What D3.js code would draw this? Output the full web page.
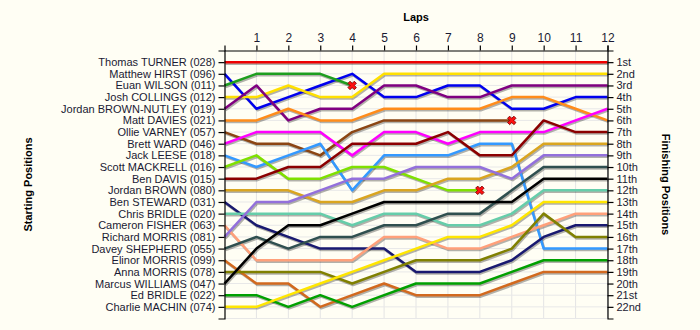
<!DOCTYPE html>
<html><head><meta charset="utf-8">
<script src="https://cdn.jsdelivr.net/npm/d3@7"></script>
<style>
html,body{margin:0;padding:0;background:#FFFEF4;}
svg{display:block;font-family:"Liberation Sans",Arial,sans-serif;}
</style></head><body>
<svg id="c" width="700" height="330"></svg>
<script>
const drivers = ["Thomas TURNER (028)","Matthew HIRST (096)","Euan WILSON (011)","Josh COLLINGS (012)","Jordan BROWN-NUTLEY (019)","Matt DAVIES (021)","Ollie VARNEY (057)","Brett WARD (046)","Jack LEESE (018)","Scott MACKRELL (016)","Ben DAVIS (015)","Jordan BROWN (080)","Ben STEWARD (031)","Chris BRIDLE (020)","Cameron FISHER (063)","Richard MORRIS (081)","Davey SHEPHERD (055)","Elinor MORRIS (099)","Anna MORRIS (078)","Marcus WILLIAMS (047)","Ed BRIDLE (022)","Charlie MACHIN (074)"];
const colors = ["#EE0000","#0000EE","#1E9E1E","#FFE000","#800080","#FF8C1A","#8B4513","#FF00FF","#3399FF","#7FE000","#8B0000","#DAA520","#191970","#66CDAA","#FFA07A","#9370DB","#2F4F4F","#D2691E","#808000","#000000","#00A000","#FFE600"];
// positions at laps 0..12 (lap 0 = starting grid)
const positions = [
 [1,1,1,1,1,1,1,1,1,1,1,1,1],
 [2,5,4,3,2,4,4,3,3,5,5,4,4],
 [3,2,2,2,3],
 [4,4,3,4,4,2,2,2,2,2,2,2,2],
 [5,3,6,5,5,3,3,4,4,3,3,3,3],
 [6,6,5,6,6,5,5,5,5,4,4,5,6],
 [7,8,8,9,7,6,6,6,6,6],
 [8,7,7,7,9,7,7,8,7,7,7,6,5],
 [9,10,9,8,12,9,9,9,8,8,17,17,17],
 [10,9,11,11,10,10,11,12,12],
 [11,11,10,10,8,8,8,7,9,9,6,7,7],
 [12,12,12,13,13,12,12,11,11,10,8,8,8],
 [13,15,16,17,17,17,19,19,19,18,16,15,15],
 [14,14,14,14,15,14,14,15,15,14,12,12,12],
 [15,18,18,18,18,16,16,17,17,16,15,14,14],
 [16,13,13,12,11,11,10,10,10,11,9,9,9],
 [17,16,17,16,16,15,15,14,14,12,10,10,10],
 [18,20,20,22,21,20,21,21,21,20,19,19,19],
 [19,19,19,19,20,19,18,18,18,17,14,16,16],
 [20,17,15,15,14,13,13,13,13,13,11,11,11],
 [21,21,22,21,22,21,20,20,20,19,18,18,18],
 [22,22,21,20,19,18,17,16,16,15,13,13,13]
];
const retired = [false,false,true,false,false,false,true,false,false,true,false,false,false,false,false,false,false,false,false,false,false,false];
const laps = d3.range(1,13);
const finishLabels = ["1st","2nd","3rd","4th","5th","6th","7th","8th","9th","10th","11th","12th","13th","14th","15th","16th","17th","18th","19th","20th","21st","22nd"];

const svg = d3.select("#c");
svg.append("rect").attr("width",700).attr("height",330).attr("fill","#FFFEF4");
const x = d3.scaleLinear().domain([0,12]).range([224.5,607.5]);
const y = d3.scaleLinear().domain([0,23]).range([50.5,318.5]);

// grid
const g = svg.append("g");
g.selectAll(".vg").data(laps).join("line")
 .attr("x1",d=>x(d)).attr("x2",d=>x(d)).attr("y1",y(0)).attr("y2",y(23))
 .attr("stroke","#e4e4e4").attr("stroke-width",1);
g.selectAll(".hg").data(d3.range(1,24)).join("line")
 .attr("x1",x(0)).attr("x2",x(12)).attr("y1",d=>y(d)).attr("y2",d=>y(d))
 .attr("stroke","#e8e8e8").attr("stroke-width",1);

const line = d3.line().x((d,i)=>x(i)).y(d=>y(d));
// shadows
svg.append("g").selectAll("path").data(positions).join("path")
 .attr("d",line).attr("fill","none").attr("stroke","rgba(0,0,0,0.3)")
 .attr("stroke-width",2.5).attr("transform","translate(1,1.5)").attr("stroke-linejoin","round");
// lines
svg.append("g").selectAll("path").data(positions).join("path")
 .attr("d",line).attr("fill","none").attr("stroke",(d,i)=>colors[i])
 .attr("stroke-width",2.5).attr("stroke-linejoin","round");

// retirement markers
const xs = positions.map((p,i)=>({p,i})).filter(d=>retired[d.i]);
const mk = svg.append("g").selectAll("g").data(xs).join("g")
 .attr("transform",d=>`translate(${x(d.p.length-1)},${y(d.p[d.p.length-1])})`);
const xp = d3.symbol().type(d3.symbolCross).size(45);
mk.append("path").attr("d",xp).attr("transform","rotate(45)")
 .attr("fill","#FF1010").attr("stroke","#7a0000").attr("stroke-width",0.8);

// axes
const fs = "11px";
const axTop = svg.append("g").attr("transform",`translate(0,${y(0)})`)
 .call(d3.axisTop(x).tickValues(laps).tickSize(5).tickSizeOuter(5).tickPadding(4));
const axLeft = svg.append("g").attr("transform",`translate(${x(0)},0)`)
 .call(d3.axisLeft(y).tickValues(d3.range(1,23)).tickFormat(d=>drivers[d-1]).tickSize(6).tickSizeOuter(6).tickPadding(3));
const axRight = svg.append("g").attr("transform",`translate(${x(12)},0)`)
 .call(d3.axisRight(y).tickValues(d3.range(1,23)).tickFormat(d=>finishLabels[d-1]).tickSize(6).tickSizeOuter(6).tickPadding(3));
[axTop,axLeft,axRight].forEach(a=>{
 a.attr("font-family",null).selectAll("text").attr("font-size",fs).attr("fill","#1a1a33");
 a.selectAll("line,path").attr("stroke","#000").attr("stroke-width",1.2);
});
axTop.selectAll("text").attr("font-size","12px");

// titles
svg.append("text").attr("x",(x(0)+x(12))/2).attr("y",21).attr("text-anchor","middle")
 .attr("font-size","11px").attr("font-weight","bold").text("Laps");
svg.append("text").attr("transform",`translate(32,${y(11.5)}) rotate(-90)`).attr("text-anchor","middle")
 .attr("font-size","11px").attr("font-weight","bold").text("Starting Positions");
svg.append("text").attr("transform",`translate(662,${y(11.5)}) rotate(90)`).attr("text-anchor","middle")
 .attr("font-size","11px").attr("font-weight","bold").text("Finishing Positions");
</script></body></html>
